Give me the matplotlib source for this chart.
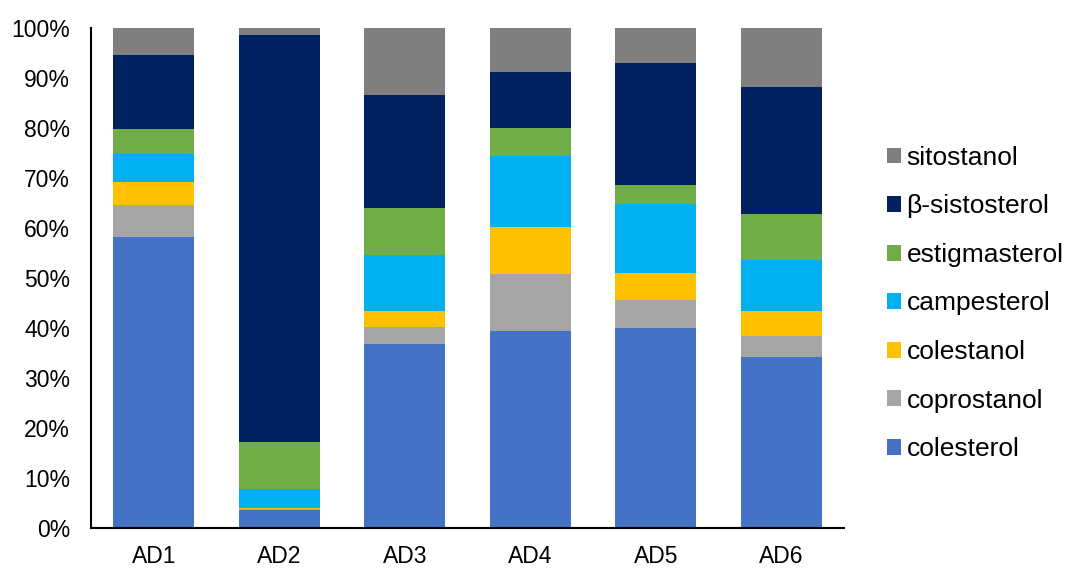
# Stacked 100% bar chart of sterol composition per sample
import numpy as np
import matplotlib
matplotlib.use("Agg")
import matplotlib.pyplot as plt
from matplotlib.ticker import FuncFormatter

plt.rcParams['font.family'] = ['Liberation Sans', 'DejaVu Sans']

# Data (percent of total sterols)
samples = ['AD1', 'AD2', 'AD3', 'AD4', 'AD5', 'AD6']
colesterol = [58.2, 3.5, 36.8, 39.3, 40.0, 34.2]
coprostanol = [6.3, 0.2, 3.4, 11.5, 5.5, 4.2]
colestanol = [4.7, 0.2, 3.2, 9.3, 5.4, 5.0]
campesterol = [5.5, 3.9, 11.1, 14.3, 13.9, 10.1]
estigmasterol = [5.0, 9.3, 9.4, 5.5, 3.7, 9.2]
b_sistosterol = [14.9, 81.5, 22.7, 11.2, 24.4, 25.5]
sitostanol = [5.4, 1.4, 13.4, 8.9, 7.1, 11.8]

series_names = ['colesterol', 'coprostanol', 'colestanol', 'campesterol',
                'estigmasterol', 'β-sistosterol', 'sitostanol']
series_values = [colesterol, coprostanol, colestanol, campesterol,
                 estigmasterol, b_sistosterol, sitostanol]
colors = ['#4472C4', '#A5A5A5', '#FFC000', '#00B0F0',
          '#70AD47', '#002060', '#7F7F7F']

fig = plt.figure(figsize=(10.66, 5.68), dpi=100)
ax = fig.add_axes([0.0854, 0.0704, 0.7064, 0.881])

x = np.arange(len(samples))
bottom = np.zeros(len(samples))
handles = []
for name, vals, col in zip(series_names, series_values, colors):
    vals = np.array(vals)
    b = ax.bar(x, vals, width=0.645, bottom=bottom, color=col, label=name,
               edgecolor='none')
    handles.append(b)
    bottom += vals

ax.set_xlim(-0.5, len(samples) - 0.5)
ax.set_ylim(0, 100)
ax.set_yticks(np.arange(0, 101, 10))
ax.yaxis.set_major_formatter(FuncFormatter(lambda v, p: '%d%%' % v))
ax.set_xticks(x)
ax.set_xticklabels(samples)
ax.tick_params(axis='y', length=0, pad=15, labelsize=16.5)
ax.tick_params(axis='x', length=0, pad=12, labelsize=16.5)

for s in ['top', 'right']:
    ax.spines[s].set_visible(False)
for s in ['left', 'bottom']:
    ax.spines[s].set_linewidth(1.5)
    ax.spines[s].set_color('black')

# Legend with reversed order (sitostanol on top)
fig.legend(handles[::-1], series_names[::-1], loc='center left',
           bbox_to_anchor=(0.822, 0.4657), frameon=False, fontsize=19,
           handlelength=0.55, handleheight=0.55, handletextpad=0.2,
           labelspacing=0.93, borderaxespad=0)

fig.savefig('out.png', dpi=100)
